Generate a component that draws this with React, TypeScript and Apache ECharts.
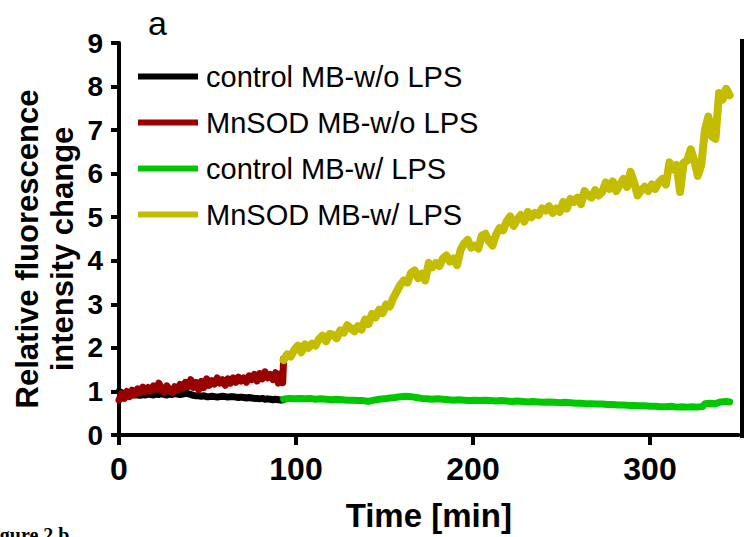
import React, { useEffect, useRef } from "react";
import * as echarts from "echarts";

// Time in minutes, relative fluorescence intensity change
const controlNoLps: [number, number][] = [
  [0, 1.0], [1.5, 0.97], [3, 0.93], [4.5, 0.92], [6, 0.93], [7.5, 0.92], [9, 0.93], [10.5, 0.92],
  [12, 0.91], [13.5, 0.93], [15, 0.92], [16.5, 0.94], [18, 0.93], [19.5, 0.92], [21, 0.94], [22.5, 0.93],
  [24, 0.95], [25.5, 0.93], [27, 0.92], [28.5, 0.94], [30, 0.93], [31.5, 0.95], [33, 0.94], [34.5, 0.93],
  [36, 0.94], [37.5, 0.96], [39, 0.95], [40.5, 0.93], [42, 0.91], [43.5, 0.9], [45, 0.9], [46.5, 0.89],
  [48, 0.9], [49.5, 0.88], [51, 0.88], [52.5, 0.89], [54, 0.88], [55.5, 0.87], [57, 0.88], [58.5, 0.89],
  [60, 0.88], [61.5, 0.87], [63, 0.88], [64.5, 0.88], [66, 0.87], [67.5, 0.86], [69, 0.87], [70.5, 0.86],
  [72, 0.85], [73.5, 0.86], [75, 0.85], [76.5, 0.84], [78, 0.84], [79.5, 0.83], [81, 0.84], [82.5, 0.82],
  [84, 0.83], [85.5, 0.82], [87, 0.81], [88.5, 0.82], [90, 0.81], [91.5, 0.8], [93, 0.81],
];

const mnsodNoLps: [number, number][] = [
  [0, 0.8], [1.5, 0.95], [3, 0.84], [4.5, 1.0], [6, 0.88], [7.5, 1.03], [9, 0.92], [10.5, 1.06],
  [12, 0.97], [13.5, 1.1], [15, 1.0], [16.5, 1.09], [18, 1.01], [19.5, 1.13], [21, 1.04], [22.5, 1.19],
  [24, 1.07], [25.5, 0.99], [27, 1.13], [28.5, 1.05], [30, 0.97], [31.5, 1.11], [33, 1.03], [34.5, 1.16],
  [36, 1.07], [37.5, 1.21], [39, 1.11], [40.5, 1.27], [42, 1.09], [43.5, 1.21], [45, 1.04], [46.5, 1.23],
  [48, 1.09], [49.5, 1.29], [51, 1.14], [52.5, 1.25], [54, 1.17], [55.5, 1.31], [57, 1.19], [58.5, 1.27],
  [60, 1.14], [61.5, 1.29], [63, 1.19], [64.5, 1.31], [66, 1.21], [67.5, 1.33], [69, 1.24], [70.5, 1.31],
  [72, 1.21], [73.5, 1.36], [75, 1.27], [76.5, 1.39], [78, 1.24], [79.5, 1.41], [81, 1.29], [82.5, 1.45],
  [84, 1.31], [85.5, 1.39], [87, 1.27], [88.5, 1.43], [90, 1.19], [91.5, 1.41], [92.5, 1.2], [93, 1.75],
];

const controlLps: [number, number][] = [
  [93, 0.82], [96, 0.84], [99, 0.83], [102, 0.84], [105, 0.83], [108, 0.84], [111, 0.82], [114, 0.83],
  [117, 0.82], [120, 0.81], [123, 0.82], [126, 0.81], [129, 0.8], [132, 0.8], [135, 0.79], [138, 0.79],
  [141, 0.77], [144, 0.8], [147, 0.82], [150, 0.83], [153, 0.85], [156, 0.86], [159, 0.88], [162, 0.89],
  [165, 0.88], [168, 0.86], [171, 0.84], [174, 0.83], [177, 0.82], [180, 0.83], [183, 0.82], [186, 0.81],
  [189, 0.8], [192, 0.81], [195, 0.8], [198, 0.79], [201, 0.8], [204, 0.79], [207, 0.8], [210, 0.79],
  [213, 0.78], [216, 0.79], [219, 0.78], [222, 0.77], [225, 0.78], [228, 0.77], [231, 0.76], [234, 0.77],
  [237, 0.76], [240, 0.75], [243, 0.76], [246, 0.75], [249, 0.74], [252, 0.75], [255, 0.74], [258, 0.73],
  [261, 0.73], [264, 0.72], [267, 0.72], [270, 0.71], [273, 0.71], [276, 0.7], [279, 0.7], [282, 0.69],
  [285, 0.69], [288, 0.68], [291, 0.68], [294, 0.67], [297, 0.67], [300, 0.66], [303, 0.66], [306, 0.65],
  [309, 0.65], [312, 0.66], [315, 0.64], [318, 0.65], [321, 0.64], [324, 0.65], [327, 0.64], [330, 0.66],
  [331, 0.72], [334, 0.73], [337, 0.72], [340, 0.76], [343, 0.77], [345, 0.76],
];

const mnsodLps: [number, number][] = [
  [93, 1.72], [95, 1.85], [97, 1.8], [99, 1.95], [101, 2.05], [103, 1.9], [105, 2.08], [107, 2.0],
  [109, 2.1], [111, 2.05], [113, 2.2], [115, 2.28], [117, 2.15], [119, 2.32], [121, 2.3], [123, 2.22],
  [125, 2.4], [127, 2.35], [129, 2.52], [131, 2.45], [133, 2.38], [135, 2.5], [137, 2.42], [139, 2.65],
  [141, 2.55], [143, 2.78], [145, 2.7], [147, 2.88], [149, 2.8], [151, 3.0], [153, 2.95], [155, 3.15],
  [157, 3.3], [159, 3.45], [161, 3.55], [163, 3.5], [165, 3.72], [167, 3.78], [169, 3.6], [171, 3.7],
  [173, 3.55], [175, 3.95], [177, 3.85], [179, 3.95], [181, 3.88], [183, 4.05], [185, 4.12], [187, 3.98],
  [189, 4.05], [191, 3.9], [193, 4.25], [195, 4.4], [197, 4.48], [199, 4.3], [201, 4.35], [203, 4.28],
  [205, 4.58], [207, 4.62], [209, 4.45], [211, 4.35], [213, 4.6], [215, 4.75], [217, 4.7], [219, 4.9],
  [221, 5.02], [223, 4.8], [225, 4.95], [227, 5.05], [229, 4.9], [231, 5.12], [233, 5.0], [235, 5.1],
  [237, 5.05], [239, 5.2], [241, 5.15], [243, 5.25], [245, 5.1], [247, 5.2], [249, 5.12], [251, 5.35],
  [253, 5.2], [255, 5.42], [257, 5.35], [259, 5.45], [261, 5.3], [263, 5.6], [265, 5.5], [267, 5.45],
  [269, 5.62], [271, 5.5], [273, 5.58], [275, 5.8], [277, 5.65], [279, 5.82], [281, 5.6], [283, 5.75],
  [285, 5.88], [287, 5.7], [289, 6.04], [291, 5.8], [293, 5.5], [295, 5.62], [297, 5.7], [299, 5.6],
  [301, 5.75], [303, 5.65], [305, 5.8], [307, 5.88], [309, 5.75], [311, 6.26], [313, 6.1], [315, 6.2],
  [317, 5.58], [319, 6.25], [321, 6.3], [323, 6.56], [325, 6.3], [327, 5.95], [329, 6.2], [331, 7.0],
  [333, 7.31], [335, 6.85], [337, 6.8], [339, 7.85], [341, 7.7], [343, 7.95], [345, 7.8],
];

const seriesNames = [
  "control MB-w/o LPS",
  "MnSOD MB-w/o LPS",
  "control MB-w/ LPS",
  "MnSOD MB-w/ LPS",
];
const seriesColors = ["#000000", "#990000", "#00c800", "#c4bc00"];
const seriesData = [controlNoLps, mnsodNoLps, controlLps, mnsodLps];

const xTickValues = [0, 100, 200, 300];
const xRange = { min: 0, max: 350 };
const yTicks = { min: 0, max: 9, interval: 1 };

const FONT = "'Liberation Sans', Arial, Helvetica, sans-serif";

export default function App() {
  const ref = useRef<HTMLDivElement>(null);
  useEffect(() => {
    document.body.style.margin = "0";
    const chart = echarts.init(ref.current!, undefined, { renderer: "svg" });
    chart.setOption({
      animation: false,
      backgroundColor: "#ffffff",
      grid: { left: 119, right: 5.5, top: 43, bottom: 99, containLabel: false },
      xAxis: {
        type: "value",
        min: xRange.min,
        max: xRange.max,
        axisLine: { show: true, lineStyle: { color: "#000", width: 4 } },
        axisTick: {
          show: true,
          length: 10,
          customValues: xTickValues,
          lineStyle: { color: "#000", width: 4 },
        },
        axisLabel: {
          color: "#000",
          fontFamily: FONT,
          fontWeight: "bold",
          fontSize: 32,
          margin: 18,
          customValues: xTickValues,
        },
        splitLine: { show: false },
        name: "Time [min]",
        nameLocation: "middle",
        nameGap: 64,
        nameTextStyle: { color: "#000", fontFamily: FONT, fontWeight: "bold", fontSize: 33 },
      },
      yAxis: {
        type: "value",
        min: yTicks.min,
        max: yTicks.max,
        interval: yTicks.interval,
        axisLine: { show: true, lineStyle: { color: "#000", width: 4 } },
        axisTick: { show: true, length: 8, lineStyle: { color: "#000", width: 4 } },
        axisLabel: {
          color: "#000",
          fontFamily: FONT,
          fontWeight: "bold",
          fontSize: 28,
          margin: 16,
        },
        splitLine: { show: false },
      },
      legend: {
        left: 138,
        top: 62,
        orient: "vertical",
        itemWidth: 60,
        itemHeight: 6,
        itemGap: 17,
        padding: 0,
        icon: "rect",
        data: seriesNames,
        textStyle: { color: "#000", fontFamily: FONT, fontSize: 29, padding: [0, 0, 0, 3] },
      },
      graphic: [
        {
          type: "text",
          left: 148,
          top: 6,
          style: { text: "a", font: `normal 34px ${FONT}`, fill: "#000" },
        },
        {
          type: "text",
          x: 45,
          y: 249,
          rotation: Math.PI / 2,
          style: {
            text: "Relative fluorescence\nintensity change",
            font: `bold 31px ${FONT}`,
            fill: "#000",
            align: "center",
            verticalAlign: "middle",
            lineHeight: 35,
          },
        },
        {
          type: "line",
          shape: { x1: 742, y1: 41, x2: 742, y2: 438 },
          style: { stroke: "#000", lineWidth: 4 },
        },
        {
          type: "line",
          shape: { x1: 740, y1: 41, x2: 744, y2: 41 },
          style: { stroke: "#000", lineWidth: 4 },
        },
        {
          type: "text",
          x: -18,
          y: 525,
          style: {
            text: "Figure 2 b",
            font: `bold 20px 'Liberation Serif', 'Times New Roman', serif`,
            fill: "#000",
            verticalAlign: "top",
          },
        },
      ],
      series: seriesNames.map((name, i) => ({
        name,
        type: "line",
        data: seriesData[i],
        showSymbol: false,
        symbol: "none",
        lineStyle: { color: seriesColors[i], width: i === 3 ? 8 : 7, join: "round", cap: "round" },
        itemStyle: { color: seriesColors[i] },
        z: 2 + i,
      })),
    });
    return () => chart.dispose();
  }, []);
  return (
    <div
      ref={ref}
      style={{ position: "fixed", left: 0, top: 0, width: 744, height: 537, background: "#fff" }}
    />
  );
}
